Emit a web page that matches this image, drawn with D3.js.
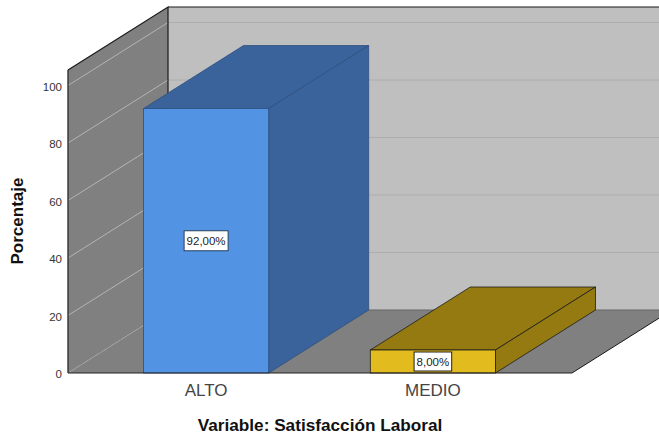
<!DOCTYPE html>
<html>
<head>
<meta charset="utf-8">
<script src="https://cdn.jsdelivr.net/npm/d3@7"></script>
<style>
  html, body { margin: 0; padding: 0; background: #fff; overflow: hidden; }
  svg { display: block; font-family: "Liberation Sans", Arial, sans-serif; }
</style>
</head>
<body>
<div id="chart"></div>
<script>
/* DATA */
const categories = ["ALTO", "MEDIO"];
const values = [92, 8];
const valueLabels = ["92,00%", "8,00%"];
const yTicks = [0, 20, 40, 60, 80, 100];

/* CONSTANTS */
const width = 659, height = 436;
const margin = { left: 68, right: 572, bottom: 373, top: 70 };
const depth = { x: 100, y: -63 }; // shift from the front of the box to the back wall

const frontColors = ["#5294e3", "#e2bb1f"];
const sideColors = ["#39639a", "#947a10"];
const edgeColors = ["#2f4f7f", "#1c1c1c"];

const svg = d3.select("#chart").append("svg")
  .attr("width", width)
  .attr("height", height);

/* SCALES */
const yScale = d3.scaleLinear()
  .domain([0, 105.4])
  .range([margin.bottom, margin.top]);

const xScale = d3.scaleBand()
  .domain(categories)
  .range([margin.left, margin.right - 1])
  .paddingInner(0.448)
  .paddingOuter(0.333);

const poly = pts => pts.map(p => p.join(",")).join(" ");
const back = p => [p[0] + depth.x, p[1] + depth.y];

/* WALLS AND FLOOR */
const fl = [margin.left, margin.bottom], fr = [margin.right, margin.bottom];
const tl = [margin.left, margin.top], tr = [margin.right, margin.top];

svg.append("polygon") // back wall
  .attr("points", poly([back(tl), back(tr), back(fr), back(fl)]))
  .attr("fill", "#bfbfbf");

svg.append("polygon") // left wall
  .attr("points", poly([tl, back(tl), back(fl), fl]))
  .attr("fill", "#808080");

svg.append("polygon") // floor
  .attr("points", poly([fl, fr, back(fr), back(fl)]))
  .attr("fill", "#808080");

/* GRIDLINES */
const gridTicks = yTicks.filter(d => d > 0);

svg.selectAll("line.gridBack")
  .data(gridTicks)
  .join("line")
  .attr("class", "gridBack")
  .attr("x1", margin.left + depth.x)
  .attr("x2", margin.right + depth.x)
  .attr("y1", d => yScale(d) + depth.y)
  .attr("y2", d => yScale(d) + depth.y)
  .attr("stroke", "#adadad")
  .attr("stroke-width", 1);

svg.selectAll("line.gridLeft")
  .data(gridTicks)
  .join("line")
  .attr("class", "gridLeft")
  .attr("x1", margin.left)
  .attr("x2", margin.left + depth.x)
  .attr("y1", d => yScale(d))
  .attr("y2", d => yScale(d) + depth.y)
  .attr("stroke", "#b4b4b4")
  .attr("stroke-width", 1);

// dotted line where the left wall meets the floor
svg.append("line")
  .attr("x1", fl[0])
  .attr("y1", fl[1])
  .attr("x2", back(fl)[0])
  .attr("y2", back(fl)[1])
  .attr("stroke", "#a8a8a8")
  .attr("stroke-dasharray", "1.5 1")
  .attr("stroke-width", 1);

/* FRAME */
const frame = svg.append("g").attr("fill", "none").attr("stroke", "#1a1a1a");

frame.append("polyline") // top and back edge of the left wall
  .attr("points", poly([tl, back(tl), back(fl)]))
  .attr("stroke-width", 1.2);

frame.append("line") // top of the back wall
  .attr("x1", back(tl)[0]).attr("y1", back(tl)[1])
  .attr("x2", back(tr)[0]).attr("y2", back(tr)[1])
  .attr("stroke-width", 1.2);

frame.append("line") // floor meets back wall
  .attr("x1", back(fl)[0]).attr("y1", back(fl)[1])
  .attr("x2", back(fr)[0]).attr("y2", back(fr)[1])
  .attr("stroke", "#666666")
  .attr("stroke-width", 1.2);

frame.append("line") // right edge of the floor
  .attr("x1", fr[0]).attr("y1", fr[1])
  .attr("x2", back(fr)[0]).attr("y2", back(fr)[1])
  .attr("stroke-width", 1);

frame.append("line") // left wall front edge
  .attr("x1", tl[0]).attr("y1", tl[1])
  .attr("x2", fl[0]).attr("y2", fl[1])
  .attr("stroke", "#333333")
  .attr("stroke-width", 1.4);

/* BARS */
const bars = svg.selectAll("g.bar")
  .data(categories)
  .join("g")
  .attr("class", "bar");

bars.each(function (c, i) {
  const g = d3.select(this);
  const x0 = xScale(c), x1 = x0 + xScale.bandwidth();
  const y0 = yScale(values[i]);
  const a = [x0, y0], b = [x1, y0], d = [x1, margin.bottom];

  g.append("polygon") // top
    .attr("points", poly([a, b, back(b), back(a)]))
    .attr("fill", sideColors[i])
    .attr("stroke", edgeColors[i])
    .attr("stroke-width", 0.8);

  g.append("polygon") // side
    .attr("points", poly([b, back(b), back(d), d]))
    .attr("fill", sideColors[i])
    .attr("stroke", edgeColors[i])
    .attr("stroke-width", 0.8);

  g.append("rect") // front
    .attr("x", x0)
    .attr("y", y0)
    .attr("width", x1 - x0)
    .attr("height", margin.bottom - y0)
    .attr("fill", frontColors[i])
    .attr("stroke", edgeColors[i])
    .attr("stroke-width", 0.8);

  // value label in a white box
  const cx = (x0 + x1) / 2, cy = (y0 + margin.bottom) / 2;
  const box = g.append("rect")
    .attr("fill", "#fff")
    .attr("stroke", i === 0 ? "#2a3f5f" : "#222222");
  const label = g.append("text")
    .attr("x", cx)
    .attr("y", cy)
    .attr("dy", "0.36em")
    .attr("text-anchor", "middle")
    .attr("font-size", 11.5)
    .attr("fill", "#222")
    .text(valueLabels[i]);
  const bb = label.node().getBBox();
  const boxH = Math.min(20, margin.bottom - y0 - 4);
  box.attr("x", bb.x - 2.5)
    .attr("y", cy - boxH / 2)
    .attr("width", bb.width + 5)
    .attr("height", boxH);
});

// baseline drawn over the bars
svg.append("line")
  .attr("x1", fl[0]).attr("y1", fl[1])
  .attr("x2", fr[0]).attr("y2", fr[1])
  .attr("stroke", "#222222")
  .attr("stroke-width", 1.2);

/* AXES */
const yAxis = d3.axisLeft(yScale).tickValues(yTicks).tickSize(0).tickPadding(6);
const yAxisGroup = svg.append("g")
  .attr("transform", `translate(${margin.left}, 0)`)
  .call(yAxis);
yAxisGroup.select(".domain").remove();
yAxisGroup.selectAll("text")
  .attr("dy", "0.41em")
  .attr("font-family", "Liberation Sans, Arial, sans-serif")
  .attr("font-size", 11.5)
  .attr("fill", "#333");

const xAxis = d3.axisBottom(xScale).tickSize(0).tickPadding(11);
const xAxisGroup = svg.append("g")
  .attr("transform", `translate(0, ${margin.bottom})`)
  .call(xAxis);
xAxisGroup.select(".domain").remove();
xAxisGroup.selectAll("text")
  .attr("font-family", "Liberation Sans, Arial, sans-serif")
  .attr("font-size", 17)
  .attr("fill", "#444");

/* AXIS TITLES */
svg.append("text")
  .attr("x", 320)
  .attr("y", 431)
  .attr("text-anchor", "middle")
  .attr("font-size", 17.2)
  .attr("font-weight", "bold")
  .attr("fill", "#111")
  .text("Variable: Satisfacción Laboral");

svg.append("text")
  .attr("transform", "translate(23, 221) rotate(-90)")
  .attr("text-anchor", "middle")
  .attr("font-size", 17)
  .attr("font-weight", "bold")
  .attr("fill", "#111")
  .text("Porcentaje");
</script>
</body>
</html>
